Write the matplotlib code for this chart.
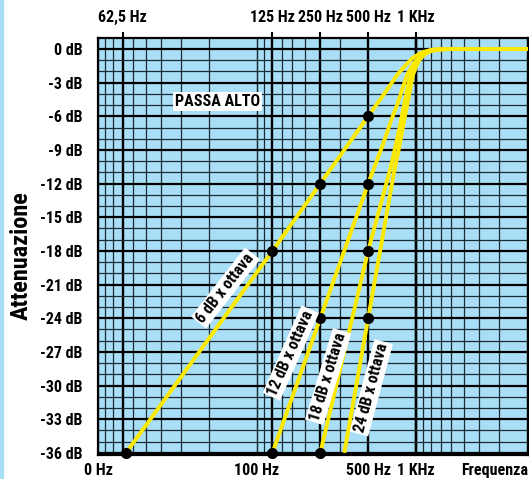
import matplotlib
matplotlib.use("Agg")
import matplotlib.pyplot as plt
from matplotlib.patches import Rectangle
from matplotlib.ticker import NullLocator

# ==========================================================
# Data (frequency in Hz, attenuation in dB)
# ==========================================================

hp6_freq = [15, 125, 250, 500, 638, 771, 860, 944, 1014, 1091, 1261, 1590, 5060]
hp6_db = [-36, -18, -12, -6, -3.9, -2.2, -1.45, -0.85, -0.55, -0.3, -0.06, 0, 0]

hp12_freq = [125, 250, 500, 620, 700, 760, 878, 950, 1014, 1107, 1250, 1520, 5060]
hp12_db = [-36, -24, -12, -8.5, -6.3, -5.0, -2.3, -1.45, -0.95, -0.35, -0.08, 0, 0]

hp18_freq = [250, 500, 700, 780, 840, 900, 950, 1045, 1172, 1350, 1600, 5060]
hp18_db = [-36, -18, -10.3, -7.3, -5.0, -3.0, -1.9, -0.95, -0.3, -0.06, 0, 0]

hp24_freq = [354, 500, 727, 790, 878, 930, 957, 1000, 1045, 1120, 1225, 1400, 1600, 5060]
hp24_db = [-36, -24, -11.0, -8.5, -5.0, -3.2, -2.3, -1.6, -1.0, -0.5, -0.2, -0.04, 0, 0]

dot_freq = [15, 125, 250, 500, 125, 250, 500, 250, 500, 500]
dot_db = [-36, -18, -12, -6, -36, -24, -12, -36, -18, -24]

bottom_ticks = [10, 100, 500, 1000]
bottom_labels = ["0 Hz", "100 Hz", "500 Hz", "1 KHz"]

top_ticks = [100 / 7, 125, 250, 500, 1000]
top_labels = ["62,5 Hz", "125 Hz", "250 Hz", "500 Hz", "1 KHz"]

db_ticks = list(range(0, -37, -3))
db_labels = [f"{v} dB" for v in db_ticks]

# ==========================================================
# Style
# ==========================================================

plt.rcParams["font.family"] = ["Roboto Condensed", "Liberation Sans", "DejaVu Sans"]
plt.rcParams["font.weight"] = "bold"
plt.rcParams["font.stretch"] = "condensed"

BLUE = "#a9def7"
YELLOW = "#fbe900"
FS = 11.5

fig = plt.figure(figsize=(5.29, 4.79), dpi=100)

fig.patches.append(
    Rectangle((0, 0), 2.5 / 529, 1, transform=fig.transFigure,
              color=BLUE, zorder=0)
)

ax = fig.add_axes([98 / 529, 24 / 479, 430 / 529, 417 / 479])
ax.set_facecolor(BLUE)

ax.set_xscale("log")
ax.set_xlim(10, 5060)
ax.set_ylim(-36.19, 0.98)

# ==========================================================
# Grid (log paper)
# ==========================================================

for decade in [100, 1000, 10000]:
    for k in range(1, 11):
        f = decade / k
        if f < 10 or f > 5060:
            continue
        heavy = any(abs(f - t) < 0.01 for t in top_ticks)
        ax.axvline(f, color="black" if heavy else "#1c2a33",
                   lw=1.7 if heavy else 0.9, zorder=1)

for v in range(0, -37, -1):
    heavy = v % 3 == 0
    ax.axhline(v, color="black" if heavy else "#1c2a33",
               lw=1.6 if heavy else 0.9, zorder=1)

for s in ax.spines.values():
    s.set_linewidth(1.6)
    s.set_color("black")
    s.set_zorder(3)

# ==========================================================
# Curves
# ==========================================================

for fx, dbx in [(hp6_freq, hp6_db), (hp12_freq, hp12_db),
                (hp18_freq, hp18_db), (hp24_freq, hp24_db)]:
    ax.plot(fx, dbx, color=YELLOW, lw=2.8, solid_capstyle="butt", zorder=4)

ax.plot(dot_freq, dot_db, "o", color="black", ms=7, zorder=5, clip_on=False)

# ==========================================================
# Labels
# ==========================================================

box = dict(facecolor="white", edgecolor="none", pad=1.5)

ax.text(56.5, -4.7, "PASSA ALTO", fontsize=FS, ha="center", va="center",
        bbox=box, zorder=6)

ax.text(63.4, -21.3, "6 dB x ottava", fontsize=11.5, rotation=52,
        ha="center", va="center", rotation_mode="anchor", bbox=box, zorder=6)
ax.text(163, -27.1, "12 dB x ottava", fontsize=11.5, rotation=66,
        ha="center", va="center", rotation_mode="anchor", bbox=box, zorder=6)
ax.text(280, -29.2, "18 dB x ottava", fontsize=11.5, rotation=73,
        ha="center", va="center", rotation_mode="anchor", bbox=box, zorder=6)
ax.text(523, -30.2, "24 dB x ottava", fontsize=11.5, rotation=75,
        ha="center", va="center", rotation_mode="anchor", bbox=box, zorder=6)

ax.set_xticks(bottom_ticks, bottom_labels)
ax.xaxis.set_minor_locator(NullLocator())
ax.tick_params(axis="x", length=0, pad=6, labelsize=FS)

ax.set_yticks(db_ticks, db_labels)
ax.tick_params(axis="y", length=0, pad=11, labelsize=FS)

top = ax.twiny()
top.set_xscale("log")
top.set_xlim(ax.get_xlim())
top.set_xticks(top_ticks, top_labels)
top.xaxis.set_minor_locator(NullLocator())
top.tick_params(axis="x", length=4.5, width=1.5, pad=5, labelsize=FS)
for s in top.spines.values():
    s.set_visible(False)

fig.text(528 / 529, 9 / 479, "Frequenza", fontsize=FS, ha="right", va="center")
fig.text(21 / 529, 1 - 256 / 479, "Attenuazione", fontsize=17.5,
         rotation=90, ha="center", va="center")

fig.savefig("out.png", dpi=100)
